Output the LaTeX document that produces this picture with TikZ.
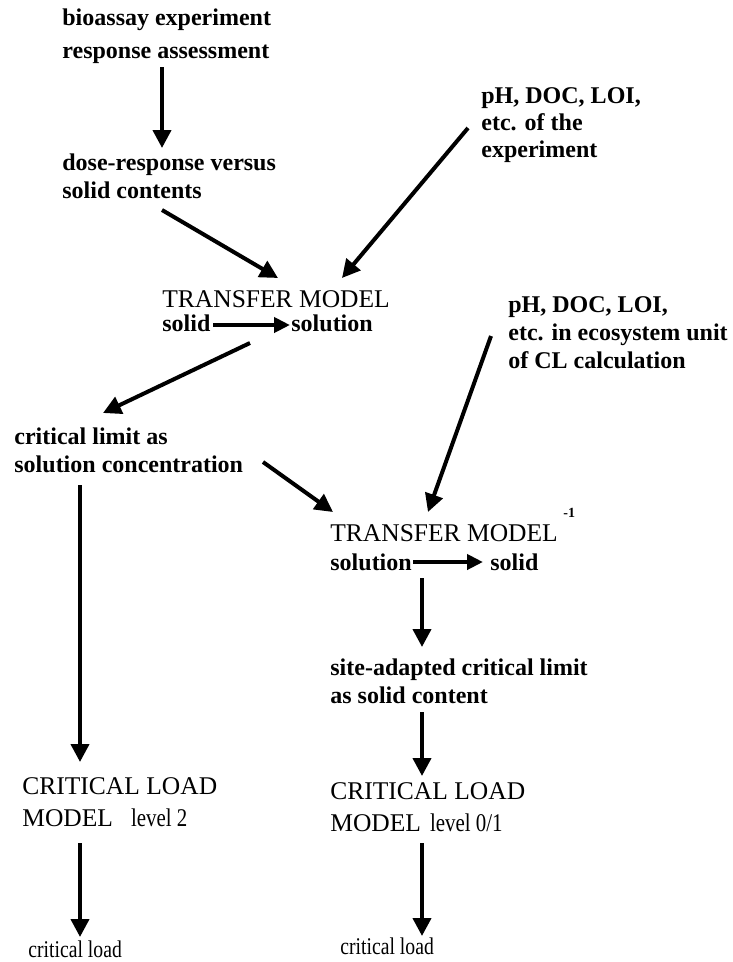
\documentclass[tikz,border=0pt]{standalone}
\usepackage{fontspec}
\setmainfont{Liberation Serif}
\newfontfamily\narrowfont{Liberation Serif}[FakeStretch=0.82]
\usetikzlibrary{arrows.meta}

\begin{document}
\begin{tikzpicture}[x=1pt,y=-1pt,thick,
  label/.style={anchor=north west,inner sep=0pt,align=left,font=\bfseries\fontsize{24}{28}\selectfont},
  model/.style={anchor=north west,inner sep=0pt,align=left,font=\fontsize{25.5}{32}\selectfont},
  result/.style={anchor=north west,inner sep=0pt,font=\narrowfont\fontsize{24}{28}\selectfont},
  flow/.style={line width=4pt,-{Triangle[width=18pt,length=18pt]}},
  turn/.style={line width=4pt,-{Triangle[width=15pt,length=16pt]}}]
\useasboundingbox (0,0) rectangle (733,962);
\node[label] (bio) at (62,8) [font=\bfseries\fontsize{24}{33}\selectfont] {bioassay experiment\\response assessment};
\node[label] (dose) at (62,153) {dose-response versus\\solid contents};
\node[label] (phA) at (481,87) [font=\bfseries\fontsize{24}{27}\selectfont] {pH, DOC, LOI,\\etc. of the\\experiment};
\node[model] (tmA) at (162,290) {TRANSFER MODEL};
\node[label] (solidA) at (162,314) {solid};
\node[label] (solA) at (291,314) {solution};
\node[label] (crit) at (14,427) {critical limit as\\solution concentration};
\node[label] (phB) at (508,296) {pH, DOC, LOI,\\etc. in ecosystem unit\\of CL calculation};
\node[model] (tmB) at (330,524) {TRANSFER MODEL};
\node[label] (inv) at (563,508) [font=\bfseries\fontsize{14}{16}\selectfont] {-1};
\node[label] (solB) at (330,553) {solution};
\node[label] (solidB) at (490,553) {solid};
\node[label] (site) at (330,658) {site-adapted critical limit\\as solid content};
\node[model] (clA) at (22,777) {CRITICAL LOAD\\MODEL\hspace{18pt}{\narrowfont level 2}};
\node[model] (clB) at (330,782) {CRITICAL LOAD\\MODEL\hspace{9pt}{\narrowfont level 0/1}};
\node[result] (loadA) at (28,940) {critical load};
\node[result] (loadB) at (340,937) {critical load};
\path
([shift={(100,59)}]bio.north west) edge[flow] ([shift={(100,-5)}]dose.north west)
([shift={(100,57)}]dose.north west) edge[flow] ([shift={(116,-12)}]tmA.north west)
([shift={(-13,41)}]phA.north west) edge[flow] ([shift={(180,-12)}]tmA.north west)
([shift={(51,11)}]solidA.north west) edge[turn] ([shift={(-1,11)}]solA.north west)
([shift={(88,53)}]tmA.north west) edge[flow] ([shift={(89,-14)}]crit.north west)
([shift={(249,35)}]crit.north west) edge[flow] ([shift={(3,-12)}]tmB.north west)
([shift={(-17,40)}]phB.north west) edge[flow] ([shift={(98,-12)}]tmB.north west)
([shift={(83,9)}]solB.north west) edge[turn] ([shift={(-7,9)}]solidB.north west)
([shift={(92,25)}]solB.north west) edge[flow] ([shift={(92,-11)}]site.north west)
([shift={(92,54)}]site.north west) edge[flow] ([shift={(92,-6)}]clB.north west)
([shift={(92,61)}]clB.north west) edge[flow] ([shift={(82,-1)}]loadB.north west)
([shift={(66,58)}]crit.north west) edge[flow] ([shift={(58,-15)}]clA.north west)
([shift={(58,66)}]clA.north west) edge[flow] ([shift={(52,-3)}]loadA.north west);
\end{tikzpicture}
\end{document}
